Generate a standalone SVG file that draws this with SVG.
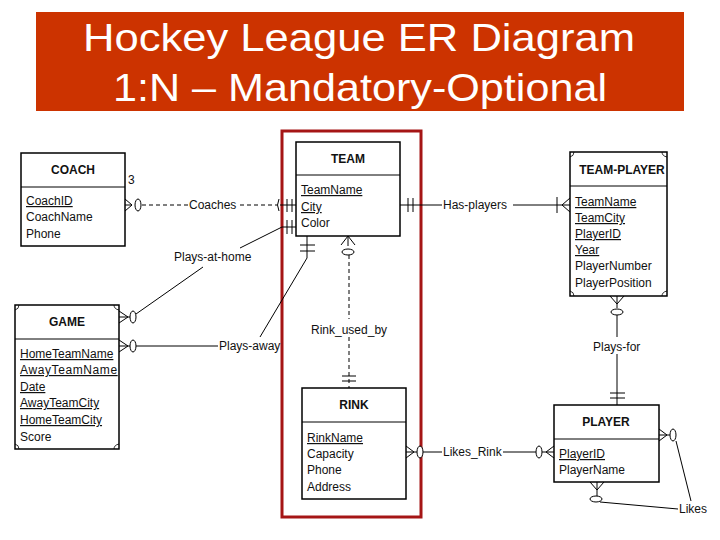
<svg xmlns="http://www.w3.org/2000/svg" width="720" height="540" viewBox="0 0 720 540">
<style>
.box{fill:#fff;stroke:#000;stroke-width:1.5}
.div{stroke:#000;stroke-width:1}
.ttl{font-family:"Liberation Sans",Arial,sans-serif;font-size:12px;font-weight:bold;text-anchor:middle;fill:#111}
.att{font-family:"Liberation Sans",Arial,sans-serif;font-size:12px;fill:#111}
.u{text-decoration:underline}
.lbl{font-family:"Liberation Sans",Arial,sans-serif;font-size:12px;fill:#111}
.ln{fill:none;stroke:#000;stroke-width:1}
.dash{fill:none;stroke:#000;stroke-width:1;stroke-dasharray:4,3}
.o{fill:#fff;stroke:#000;stroke-width:1}
.corner{fill:none;stroke:#000;stroke-width:0.8}
.big{font-family:"Liberation Sans",Arial,sans-serif;font-size:39px;fill:#fff}
</style>
<defs>
<clipPath id="gclip"><rect x="15" y="305" width="104" height="144"/></clipPath>
<clipPath id="tpclip"><rect x="570" y="152" width="97" height="144"/></clipPath>
</defs>
<rect width="720" height="540" fill="#fff"/>
<g id="title">
<rect x="36" y="12" width="648" height="99" fill="#CC3300"/>
<text class="big" x="83" y="51" textLength="552" lengthAdjust="spacingAndGlyphs">Hockey League ER Diagram</text>
<text class="big" x="113" y="101" textLength="494" lengthAdjust="spacingAndGlyphs">1:N – Mandatory-Optional</text>
</g>
<g id="highlight">
<rect x="282" y="131" width="139" height="386" fill="none" stroke="#A51515" stroke-width="3"/>
</g>
<g id="connectors">
<!-- Coaches -->
<path class="dash" d="M142,205 H188 M240,205 H277"/>
<path class="ln" d="M125,199 L132,205 L125,211 M125,205 H132"/>
<ellipse class="o" cx="138" cy="205" rx="3" ry="6"/>
<path class="ln" d="M279,199 Q276,205 279,211"/>
<path class="ln" d="M280,205 H296 M287,199 V212 M292,199 V212"/>
<text class="lbl" x="189" y="209">Coaches</text>
<!-- Plays-at-home -->
<path class="ln" d="M296,227 H282 L240,248"/>
<path class="ln" d="M287,220 V234 M292,220 V234"/>
<path class="ln" d="M203,267 L136,314"/>
<path class="ln" d="M119,311 L128,317 L119,323 M119,317 H130"/>
<ellipse class="o" cx="133" cy="317" rx="3" ry="6"/>
<text class="lbl" x="174" y="261">Plays-at-home</text>
<!-- Plays-away -->
<path class="ln" d="M119,340 L128,346 L119,352 M119,346 H130"/>
<ellipse class="o" cx="133" cy="346" rx="3" ry="6"/>
<path class="ln" d="M136,346 H218"/>
<path class="ln" d="M307,236 V258 L260,337"/>
<path class="ln" d="M300,245 H315 M300,251 H315"/>
<text class="lbl" x="219" y="350">Plays-away</text>
<!-- Has-players -->
<path class="ln" d="M400,205 H442 M513,205 H570"/>
<path class="ln" d="M408,198 V212 M413,198 V212"/>
<path class="ln" d="M557,197 V213 M570,198 L562,205 L570,212"/>
<text class="lbl" x="443" y="209">Has-players</text>
<!-- Rink_used_by -->
<path class="ln" d="M341,245 L348,236 L355,245 M348,236 V246"/>
<ellipse class="o" cx="348" cy="252" rx="6" ry="3"/>
<path class="dash" d="M349,255 V319 M349,337 V388"/>
<path class="ln" d="M342,376 H356 M342,381 H356"/>
<text class="lbl" x="311" y="334">Rink_used_by</text>
<!-- Likes_Rink -->
<path class="ln" d="M406,446 L414,452 L406,458 M406,452 H417"/>
<ellipse class="o" cx="420" cy="452" rx="3" ry="6"/>
<path class="ln" d="M423,452 H442 M503,452 H536"/>
<ellipse class="o" cx="539" cy="452" rx="3" ry="6"/>
<path class="ln" d="M542,452 H554 M554,446 L546,452 L554,458"/>
<text class="lbl" x="443" y="456">Likes_Rink</text>
<!-- Plays-for -->
<path class="ln" d="M610,296 L617,304 L624,296 M617,296 V308"/>
<ellipse class="o" cx="617" cy="312" rx="6" ry="3"/>
<path class="ln" d="M617,315 V337 M617,354 V405"/>
<path class="ln" d="M610,393 H625 M610,398 H625"/>
<text class="lbl" x="593" y="351">Plays-for</text>
<!-- Likes -->
<path class="ln" d="M659,429 L667,435 L659,441 M659,435 H670"/>
<ellipse class="o" cx="673" cy="435" rx="3" ry="6"/>
<path class="ln" d="M676,441 L691,501"/>
<path class="ln" d="M590,482 L597,490 L604,482 M597,482 V496"/>
<ellipse class="o" cx="596" cy="499" rx="6" ry="3"/>
<path class="ln" d="M600,502 L678,509"/>
<text class="lbl" x="679" y="513">Likes</text>
</g>
<g id="coach">
<rect class="box" x="21" y="153" width="104" height="93"/>
<line class="div" x1="21" y1="187" x2="125" y2="187"/>
<text class="ttl" x="73" y="174">COACH</text>
<text class="att u" x="26" y="205">CoachID</text>
<text class="att" x="26" y="221">CoachName</text>
<text class="att" x="26" y="238">Phone</text>
<text class="lbl" x="128" y="184">3</text>
</g>
<g id="team">
<rect class="box" x="296" y="142" width="104" height="94"/>
<line class="div" x1="296" y1="175" x2="400" y2="175"/>
<text class="ttl" x="348" y="163">TEAM</text>
<text class="att u" x="301" y="194">TeamName</text>
<text class="att u" x="301" y="211">City</text>
<text class="att" x="301" y="227">Color</text>
</g>
<g id="team-player">
<rect class="box" x="570" y="152" width="97" height="144"/>
<line class="div" x1="570" y1="186" x2="667" y2="186"/>
<path class="corner" d="M570,157 Q574,156 574,152 M662,152 Q662,156 667,157 M570,291 Q574,292 574,296 M667,291 Q662,292 662,296"/>
<g clip-path="url(#tpclip)">
<text class="ttl" x="622" y="174">TEAM-PLAYER</text>
<text class="att u" x="575" y="206">TeamName</text>
<text class="att u" x="575" y="222">TeamCity</text>
<text class="att u" x="575" y="238">PlayerID</text>
<text class="att u" x="575" y="254">Year</text>
<text class="att" x="575" y="270">PlayerNumber</text>
<text class="att" x="575" y="287">PlayerPosition</text>
</g>
</g>
<g id="game">
<rect class="box" x="15" y="305" width="104" height="144"/>
<line class="div" x1="15" y1="339" x2="119" y2="339"/>
<path class="corner" d="M15,310 Q19,309 19,305 M114,305 Q114,309 119,310 M15,444 Q19,445 19,449 M119,444 Q114,445 114,449"/>
<g clip-path="url(#gclip)">
<text class="ttl" x="67" y="326">GAME</text>
<text class="att u" x="20" y="358">HomeTeamName</text>
<text class="att u" x="20" y="374" letter-spacing="0.6">AwayTeamName</text>
<text class="att u" x="20" y="391">Date</text>
<text class="att u" x="20" y="407">AwayTeamCity</text>
<text class="att u" x="20" y="424">HomeTeamCity</text>
<text class="att" x="20" y="441">Score</text>
</g>
</g>
<g id="rink">
<rect class="box" x="302" y="388" width="104" height="111"/>
<line class="div" x1="302" y1="422" x2="406" y2="422"/>
<text class="ttl" x="354" y="409">RINK</text>
<text class="att u" x="307" y="442">RinkName</text>
<text class="att" x="307" y="458">Capacity</text>
<text class="att" x="307" y="474">Phone</text>
<text class="att" x="307" y="491">Address</text>
</g>
<g id="player">
<rect class="box" x="554" y="405" width="105" height="77"/>
<line class="div" x1="554" y1="439" x2="659" y2="439"/>
<text class="ttl" x="606" y="426">PLAYER</text>
<text class="att u" x="559" y="458">PlayerID</text>
<text class="att" x="559" y="474">PlayerName</text>
</g>
</svg>
